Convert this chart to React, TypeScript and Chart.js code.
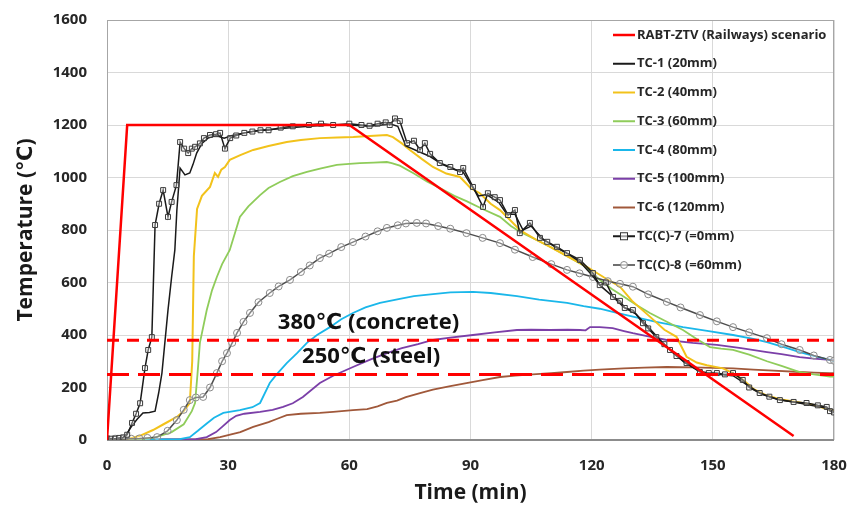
import React, { useEffect, useRef } from 'react';
import { Chart, registerables } from 'chart.js';
Chart.register(...registerables);

// ---------- data (time in min, temperature in °C) ----------
const xTicks = [0, 30, 60, 90, 120, 150, 180];
const yTicks = [0, 200, 400, 600, 800, 1000, 1200, 1400, 1600];

const limitT = [0, 180];
const concreteV = [380, 380];
const steelV = [250, 250];

const rabtT = [0, 5, 60, 170];
const rabtV = [0, 1200, 1200, 15];

const tc1T = [0, 3, 4.5, 6, 7.5, 8.9, 10.5, 11.9, 12.8, 13.6, 15.1, 16, 16.8, 17.3, 18.1, 19.3, 20.5, 21.3, 22.2, 23.5, 25, 27, 29, 31, 34, 38, 42, 46, 50, 55, 60, 65, 68, 70, 72, 74, 77, 80, 83, 86, 88, 90, 92, 94, 97, 99, 101, 103, 105, 108, 111, 114, 117, 120, 122, 125, 128, 131, 134, 137, 140, 143, 147, 151, 155, 158, 162, 166, 170, 175, 178, 180];
const tc1V = [0, 0, 15, 50, 80, 103, 105, 110, 180, 255, 495, 621, 724, 876, 1036, 1010, 1017, 1050, 1093, 1130, 1150, 1160, 1150, 1160, 1170, 1180, 1185, 1190, 1195, 1200, 1200, 1195, 1200, 1205, 1195, 1120, 1100, 1080, 1050, 1030, 1025, 975, 930, 935, 905, 860, 860, 800, 815, 765, 735, 710, 680, 630, 590, 550, 505, 480, 430, 380, 335, 295, 260, 250, 245, 215, 175, 155, 145, 130, 122, 108];

const tc2T = [0, 5, 8, 11.4, 14, 17.3, 19, 20.5, 21.1, 21.5, 22.3, 23.5, 25.5, 26.7, 27.5, 28.3, 29.2, 30.4, 33, 36.2, 40, 44.5, 48, 52.7, 57, 61, 65, 69.3, 70.8, 73, 75, 78, 80.7, 84, 87.4, 90, 92.3, 95, 97.3, 99.8, 102.2, 106, 109.7, 114, 118.8, 123, 127, 130, 134.4, 138, 141, 143.5, 146, 148.5, 152.5, 155, 157.4, 160, 163, 166.6, 170, 175, 180];
const tc2V = [0, 3, 15, 38, 60, 88, 110, 141, 300, 700, 880, 930, 964, 1017, 1002, 1030, 1040, 1067, 1085, 1105, 1120, 1135, 1143, 1150, 1152, 1154, 1158, 1162, 1154, 1130, 1105, 1070, 1040, 1015, 1002, 960, 940, 900, 876, 838, 800, 765, 736, 700, 660, 620, 584, 530, 470, 420, 393, 317, 295, 285, 273, 255, 230, 195, 172, 155, 147, 133, 110];

const tc3T = [0, 8, 12, 16, 19, 21, 21.8, 22.4, 23, 24.7, 26, 27.2, 28.5, 30.4, 32.9, 35, 37.9, 40, 42.8, 46, 49.5, 53, 56.9, 60, 62.6, 66, 69.3, 70.5, 72.5, 76, 79.2, 83, 86, 89, 93, 97.3, 100, 102.2, 106, 109.7, 114, 118, 122, 125, 127.8, 131, 134.4, 138, 142.6, 146, 149.3, 152, 155, 159, 163.4, 167, 171.5, 175, 179, 180];
const tc3V = [0, 2, 10, 30, 60, 110, 141, 250, 370, 495, 570, 621, 670, 724, 850, 890, 933, 960, 983, 1005, 1021, 1035, 1048, 1052, 1055, 1057, 1059, 1055, 1045, 1015, 985, 955, 930, 910, 880, 850, 815, 793, 765, 736, 700, 665, 610, 575, 548, 515, 484, 455, 419, 385, 354, 348, 343, 325, 300, 282, 259, 250, 242, 242];

const tc4T = [0, 18, 20.5, 22.5, 24.7, 26.5, 28.8, 32.9, 36, 37.9, 40.3, 42, 44.5, 47, 49.5, 52, 55.2, 58, 60.9, 64, 67.6, 72.5, 76, 80.7, 85, 90.6, 95, 101.5, 107, 113.9, 118, 122, 126, 130.2, 136, 142.6, 149, 155, 160, 163.4, 168, 171.5, 175, 179, 180];
const tc4V = [0, 3, 11, 35, 63, 85, 103, 114, 125, 141, 217, 250, 293, 330, 370, 400, 430, 460, 484, 505, 522, 538, 548, 556, 562, 564, 560, 548, 535, 522, 510, 500, 485, 470, 450, 430, 415, 400, 385, 373, 352, 335, 320, 305, 300];

const tc5T = [0, 22, 24.7, 27, 28.5, 30.4, 32, 34, 37.9, 41, 43.6, 46, 48.5, 52.7, 56, 60.9, 65, 69.3, 73, 77, 80.7, 85, 90.6, 96, 101.5, 105, 109.7, 114, 117.1, 118.5, 119.6, 122, 125.2, 128, 130.2, 134, 138.6, 145, 151, 157, 163.4, 167, 171.5, 175, 179, 180];
const tc5V = [0, 3, 11, 30, 50, 76, 92, 100, 107, 115, 126, 140, 164, 217, 245, 278, 305, 331, 350, 365, 381, 390, 400, 410, 419, 420, 419, 420, 419, 418, 430, 430, 426, 415, 407, 395, 381, 370, 362, 350, 335, 327, 316, 310, 305, 303];

const tc6T = [0, 25, 28, 31, 33, 36.2, 40, 42, 44.5, 48, 52.7, 56, 60.9, 64.4, 67, 69.3, 71.8, 74, 77.5, 80.7, 85, 89, 93, 97.3, 101, 105.4, 110, 113.9, 118, 122, 128, 133, 138.6, 145, 150, 155, 160, 165, 171.5, 175, 179, 180];
const tc6V = [0, 3, 11, 22, 30, 50, 68, 80, 95, 100, 103, 107, 114, 118, 128, 141, 150, 163, 179, 192, 205, 217, 228, 240, 245, 250, 255, 259, 264, 268, 273, 276, 278, 277, 275, 273, 268, 264, 259, 257, 255, 255];

const tc7T = [0, 1, 2, 3, 4, 5, 6.2, 7.2, 8.2, 9.4, 10.2, 11.1, 11.9, 12.9, 13.9, 15.1, 16, 17.2, 18.1, 19.1, 20.1, 21, 21.8, 23, 24, 25.5, 27, 28, 29.2, 30.5, 32, 34, 36, 38, 40, 43, 46, 50, 53, 56, 60, 63, 65, 67, 69, 70, 71.3, 72.5, 74.3, 76, 77.5, 78.7, 80, 82.4, 85, 87.4, 88.2, 90.6, 93.1, 94.3, 96, 97.3, 99.3, 101, 102.2, 104.7, 107.2, 109, 111.4, 113.9, 117.1, 120.3, 122, 123.5, 125.3, 127, 128.2, 130.2, 132.7, 134, 136, 138, 139.4, 141, 143.5, 146.8, 149, 151, 153, 155, 157.4, 159, 161.6, 164, 166.6, 170, 173.2, 176, 178.2, 179, 180];
const tc7V = [5, 5, 5, 8, 10, 20, 65, 100, 140, 274, 343, 392, 819, 900, 952, 850, 907, 971, 1135, 1110, 1093, 1110, 1117, 1130, 1150, 1162, 1165, 1170, 1110, 1150, 1160, 1170, 1175, 1180, 1180, 1190, 1195, 1200, 1205, 1200, 1205, 1200, 1197, 1205, 1210, 1200, 1225, 1215, 1131, 1140, 1105, 1131, 1090, 1055, 1040, 1021, 1036, 964, 888, 940, 925, 914, 857, 876, 788, 827, 770, 755, 736, 712, 686, 636, 590, 600, 545, 530, 503, 495, 445, 425, 392, 365, 343, 320, 293, 259, 255, 255, 250, 255, 229, 200, 179, 165, 152, 145, 141, 132, 126, 110, 105];

const tc8T = [0, 2, 4, 6, 8, 10, 12.4, 15, 17.3, 19, 20.5, 22, 23.8, 25.5, 27.2, 28.5, 29.7, 31, 32.2, 33.8, 35.4, 37.5, 40.3, 42.5, 45.3, 48, 50.2, 52.7, 55, 58, 60.9, 64, 67, 69.3, 72, 74, 76.7, 79, 82, 85, 89, 93, 97.3, 101, 105.4, 110, 113.9, 117, 120.3, 124, 127, 130.2, 134, 138.6, 142, 146.8, 151, 155, 159, 163.4, 167, 171.5, 175, 179, 180];
const tc8V = [5, 5, 5, 5, 6, 8, 11, 35, 76, 115, 152, 162, 164, 200, 255, 300, 331, 370, 408, 450, 484, 525, 560, 585, 610, 640, 665, 693, 710, 735, 754, 775, 795, 808, 818, 825, 827, 825, 815, 805, 788, 770, 750, 725, 697, 670, 648, 635, 621, 605, 595, 584, 555, 526, 505, 476, 452, 430, 410, 388, 365, 343, 322, 305, 302];

const seriesLabels = ['RABT-ZTV (Railways) scenario', 'TC-1 (20mm)', 'TC-2 (40mm)', 'TC-3 (60mm)', 'TC-4 (80mm)', 'TC-5 (100mm)', 'TC-6 (120mm)', 'TC(C)-7 (=0mm)', 'TC(C)-8 (=60mm)'];
const seriesColors = ['#ff0000', '#1a1a1a', '#f2c21b', '#8fcc5a', '#1ab7ea', '#7b3fa8', '#a0583a', '#1a1a1a', '#6f6f6f'];
const concreteLabel = '380\u2103 (concrete)';
const steelLabel = '250\u2103 (steel)';
const xTitle = 'Time (min)';
const yTitle = 'Temperature (\u2103)';

const FONT = "'Open Sans', 'DejaVu Sans', sans-serif";

const pts = (t: number[], v: number[]) => t.map((x, i) => ({ x, y: v[i] }));

const legendPlugin = {
  id: 'customLegend',
  afterDraw(chart: any) {
    const { ctx, chartArea } = chart;
    const x0 = chartArea.right - 221;
    const y0 = chartArea.top + 15;
    const gap = 28.75;
    ctx.save();
    ctx.font = `bold 13px ${FONT}`;
    ctx.textBaseline = 'middle';
    ctx.textAlign = 'left';
    seriesLabels.forEach((lab, i) => {
      const y = y0 + i * gap;
      ctx.strokeStyle = seriesColors[i];
      ctx.lineWidth = i === 0 ? 2.5 : 2;
      ctx.beginPath();
      ctx.moveTo(x0, y);
      ctx.lineTo(x0 + 22, y);
      ctx.stroke();
      if (i === 7) {
        ctx.lineWidth = 1;
        ctx.strokeStyle = '#333';
        ctx.fillStyle = 'rgba(255,255,255,0.6)';
        ctx.fillRect(x0 + 7.5, y - 3.5, 7, 7);
        ctx.strokeRect(x0 + 7.5, y - 3.5, 7, 7);
      }
      if (i === 8) {
        ctx.lineWidth = 1;
        ctx.strokeStyle = '#888';
        ctx.fillStyle = 'rgba(255,255,255,0.6)';
        ctx.beginPath();
        ctx.arc(x0 + 11, y, 3.5, 0, Math.PI * 2);
        ctx.fill();
        ctx.stroke();
      }
      ctx.fillStyle = '#262626';
      ctx.fillText(lab, x0 + 24, y);
    });
    ctx.restore();
  },
};

const textPlugin = {
  id: 'limitText',
  afterDraw(chart: any) {
    const { ctx, scales } = chart;
    ctx.save();
    ctx.font = `bold 22px ${FONT}`;
    ctx.fillStyle = '#111';
    ctx.textBaseline = 'middle';
    ctx.textAlign = 'left';
    ctx.fillText(concreteLabel, scales.x.getPixelForValue(42.3), scales.y.getPixelForValue(446));
    ctx.fillText(steelLabel, scales.x.getPixelForValue(48.3), scales.y.getPixelForValue(316));
    ctx.restore();
  },
};

const framePlugin = {
  id: 'frame',
  beforeDatasetsDraw(chart: any) {
    const { ctx, chartArea: a } = chart;
    ctx.save();
    ctx.strokeStyle = '#a6a6a6';
    ctx.lineWidth = 1;
    ctx.strokeRect(a.left + 0.5, a.top + 0.5, a.right - a.left - 1, a.bottom - a.top);
    ctx.strokeStyle = '#8c8c8c';
    ctx.lineWidth = 2;
    ctx.beginPath();
    ctx.moveTo(a.left, a.bottom);
    ctx.lineTo(a.right, a.bottom);
    ctx.stroke();
    ctx.restore();
  },
};

export default function App() {
  const ref = useRef<HTMLCanvasElement | null>(null);
  useEffect(() => {
    if (!ref.current) return;
    Chart.defaults.font.family = FONT;
    const line = (label: string, t: number[], v: number[], color: string, width: number, extra: any = {}) => ({
      label,
      data: pts(t, v),
      borderColor: color,
      backgroundColor: color,
      borderWidth: width,
      pointRadius: 0,
      tension: 0,
      fill: false,
      ...extra,
    });
    const chart = new Chart(ref.current, {
      type: 'line',
      data: {
        datasets: [
          line('steel', limitT, steelV, '#ff0000', 3, { borderDash: [22, 9] }),
          line('concrete', limitT, concreteV, '#ff0000', 3, { borderDash: [12, 8] }),
          line(seriesLabels[0], rabtT, rabtV, seriesColors[0], 2.5),
          line(seriesLabels[7], tc7T, tc7V, seriesColors[7], 1.5, {
            pointRadius: 3.5, pointStyle: 'rect', pointBorderColor: '#3a3a3a', pointBorderWidth: 1,
            pointBackgroundColor: 'rgba(255,255,255,0.35)',
          }),
          line(seriesLabels[1], tc1T, tc1V, seriesColors[1], 1.5),
          line(seriesLabels[8], tc8T, tc8V, '#4d4d4d', 1.5, {
            pointRadius: 3.5, pointStyle: 'circle', pointBorderColor: '#8a8a8a', pointBorderWidth: 1,
            pointBackgroundColor: 'rgba(255,255,255,0.3)',
          }),
          line(seriesLabels[2], tc2T, tc2V, seriesColors[2], 2),
          line(seriesLabels[3], tc3T, tc3V, seriesColors[3], 1.8),
          line(seriesLabels[4], tc4T, tc4V, seriesColors[4], 1.8),
          line(seriesLabels[5], tc5T, tc5V, seriesColors[5], 1.8),
          line(seriesLabels[6], tc6T, tc6V, seriesColors[6], 1.8),
        ],
      },
      options: {
        responsive: false,
        animation: false,
        layout: { padding: { left: 0, right: 16, top: 20, bottom: 0 } },
        plugins: { legend: { display: false }, tooltip: { enabled: false } },
        scales: {
          x: {
            type: 'linear',
            min: 0,
            max: 180,
            afterBuildTicks: (s: any) => { s.ticks = xTicks.map((value) => ({ value })); },
            afterFit: (s: any) => { s.height = 69; s.paddingLeft = 0; s.paddingRight = 0; },
            grid: { color: '#d9d9d9', drawTicks: false },
            border: { display: false },
            ticks: { color: '#262626', padding: 17, font: { size: 15, weight: 'bold' }, callback: (v: any) => String(v) },
            title: { display: true, text: xTitle, color: '#1a1a1a', font: { size: 21, weight: 'bold' }, padding: { top: 0, bottom: 3 } },
          },
          y: {
            type: 'linear',
            min: 0,
            max: 1600,
            afterBuildTicks: (s: any) => { s.ticks = yTicks.map((value) => ({ value })); },
            afterFit: (s: any) => { s.width = 107; s.paddingTop = 0; s.paddingBottom = 0; },
            grid: { color: '#d9d9d9', drawTicks: false },
            border: { display: false },
            ticks: { color: '#262626', padding: 20, font: { size: 15, weight: 'bold' }, callback: (v: any) => String(v) },
            title: { display: true, text: yTitle, color: '#1a1a1a', font: { size: 21, weight: 'bold' }, padding: { top: 13, bottom: 0 } },
          },
        },
      },
      plugins: [framePlugin, legendPlugin, textPlugin],
    });
    return () => chart.destroy();
  }, []);
  return (
    <div style={{ position: 'fixed', left: 0, top: 0, width: 850, height: 509, background: '#fff' }}>
      <canvas ref={ref} width={850} height={509} />
    </div>
  );
}
